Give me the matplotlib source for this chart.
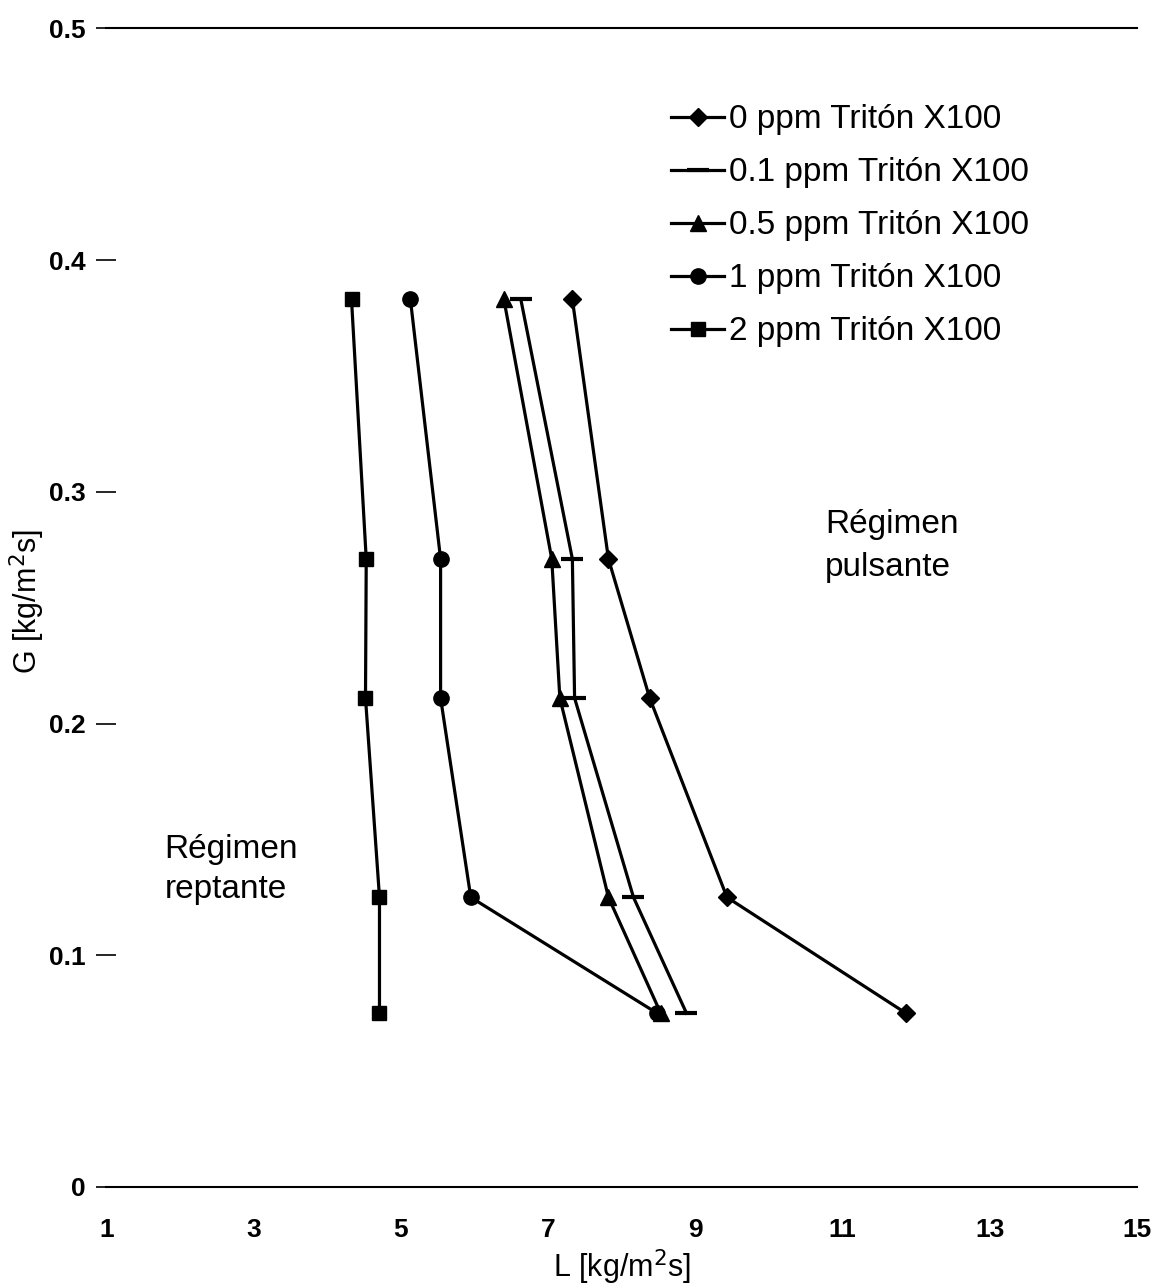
import matplotlib
matplotlib.use("Agg")
import matplotlib.pyplot as plt

plt.rcParams['font.family'] = ['Liberation Sans', 'DejaVu Sans']

# Gas flux levels (shared by every series)
G = [0.383, 0.271, 0.211, 0.125, 0.075]

# Liquid flux at the transition for each surfactant concentration
L_0ppm = [7.33, 7.82, 8.38, 9.43, 11.86]
L_01ppm = [6.63, 7.33, 7.36, 8.16, 8.88]
L_05ppm = [6.40, 7.05, 7.16, 7.82, 8.53]
L_1ppm = [5.13, 5.54, 5.54, 5.95, 8.48]
L_2ppm = [4.33, 4.53, 4.52, 4.71, 4.71]

labels = ["0 ppm Tritón X100", "0.1 ppm Tritón X100", "0.5 ppm Tritón X100",
          "1 ppm Tritón X100", "2 ppm Tritón X100"]
series = [L_0ppm, L_01ppm, L_05ppm, L_1ppm, L_2ppm]
markers = ["D", "_", "^", "o", "s"]
msizes = [9, 16, 11, 11, 10]

x_ticks = [1, 3, 5, 7, 9, 11, 13, 15]
y_ticks = [0, 0.1, 0.2, 0.3, 0.4, 0.5]

fig = plt.figure(figsize=(11.56, 12.86), dpi=100)
ax = fig.add_axes([0.092, 0.077, 0.8916, 0.901])

for L, lab, m, ms in zip(series, labels, markers, msizes):
    ax.plot(L, G, color="black", lw=2.3, marker=m, markersize=ms,
            markeredgewidth=3 if m == "_" else 1, label=lab,
            markerfacecolor="black", markeredgecolor="black")

ax.set_xlim(1, 15)
ax.set_ylim(0, 0.5)
ax.set_xticks(x_ticks)
ax.set_yticks(y_ticks)
ax.set_xticklabels([str(v) for v in x_ticks], fontsize=19, fontweight="bold")
ax.set_yticklabels(["0", "0.1", "0.2", "0.3", "0.4", "0.5"], fontsize=19, fontweight="bold")
ax.tick_params(axis="x", length=0, pad=22)
ax.tick_params(axis="y", length=14, width=1.2, pad=8, direction="inout")

for side in ("left", "right"):
    ax.spines[side].set_visible(False)
for side in ("top", "bottom"):
    ax.spines[side].set_linewidth(1.5)

ax.set_xlabel("L [kg/m$^2$s]", fontsize=22, labelpad=4)
ax.set_ylabel("G [kg/m$^2$s]", fontsize=22)
ax.yaxis.set_label_coords(-0.058, 0.505)

ax.text(1.79, 0.137, "Régimen\nreptante", fontsize=24, ha="left", va="center",
        linespacing=1.4)
ax.text(10.76, 0.2765, "Régimen\npulsante", fontsize=24, ha="left", va="center",
        linespacing=1.5)

ax.legend(loc="upper left", bbox_to_anchor=(0.535, 0.946), frameon=False,
          fontsize=24, handlelength=1.6, handletextpad=0.15, labelspacing=0.66,
          borderaxespad=0)

fig.savefig("out.png", dpi=100)
